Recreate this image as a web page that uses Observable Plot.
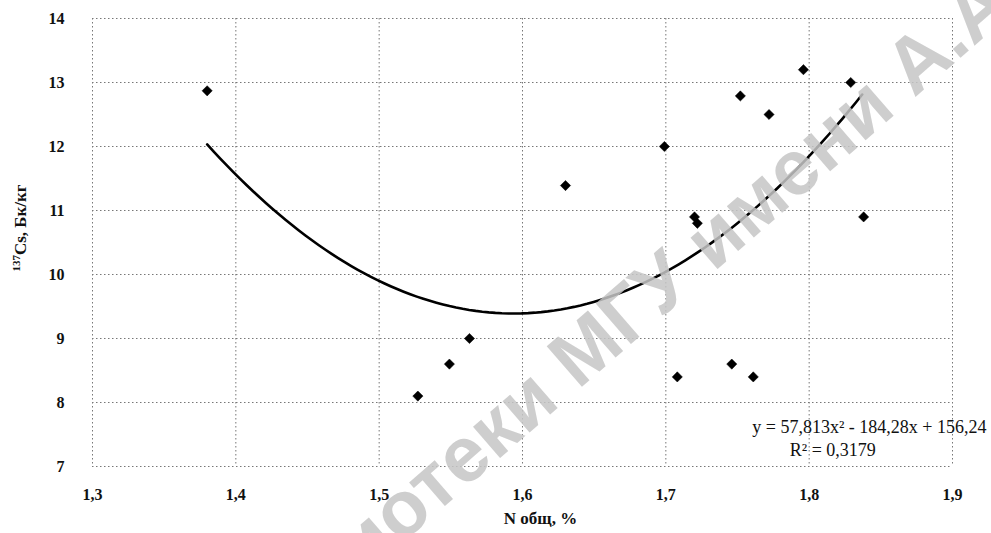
<!DOCTYPE html>
<html>
<head>
<meta charset="utf-8">
<script src="https://cdn.jsdelivr.net/npm/d3@7"></script>
<script src="https://cdn.jsdelivr.net/npm/@observablehq/plot@0.6"></script>
<style>
  html, body { margin: 0; padding: 0; background: #fff; }
  #chart { width: 991px; height: 533px; }
</style>
</head>
<body>
<div id="chart"></div>
<script>
// N общ, % (x) and 137Cs, Бк/кг (y) for each sample
const nTotal = [1.380, 1.527, 1.549, 1.563, 1.630, 1.699, 1.708, 1.720, 1.722, 1.746, 1.752, 1.761, 1.772, 1.796, 1.829, 1.838];
const cs137  = [12.87, 8.10, 8.60, 9.00, 11.39, 12.00, 8.40, 10.90, 10.80, 8.60, 12.79, 8.40, 12.50, 13.20, 13.00, 10.90];

// Tick values
const xTicks = [1.3, 1.4, 1.5, 1.6, 1.7, 1.8, 1.9];
const yTicks = [7, 8, 9, 10, 11, 12, 13, 14];

// Trendline as printed on the chart: y = a x^2 + b x + c
const trendCoef = [57.813, -184.28, 156.24];
const trendRange = [1.38, 1.837];
const equationText = "y = 57,813x² - 184,28x + 156,24";
const r2Text = "R² = 0,3179";

const xTitle = "N общ, %";
const yTitleSup = "137";
const yTitleMain = "Cs, Бк/кг";

const points = nTotal.map((x, i) => ({x, y: cs137[i]}));
const trend = d3.range(0, 101).map(i => {
  const x = trendRange[0] + (trendRange[1] - trendRange[0]) * i / 100;
  return {x, y: trendCoef[0] * x * x + trendCoef[1] * x + trendCoef[2]};
});
const comma = d => d3.format(".1f")(d).replace(".", ",");

const plot = Plot.plot({
  width: 991,
  height: 533,
  marginTop: 18,
  marginBottom: 67,
  marginLeft: 92,
  marginRight: 39,
  style: {fontFamily: "'Liberation Serif', 'DejaVu Serif', serif", fontSize: "16px", fontWeight: "bold", color: "#111", background: "#fff"},
  x: {domain: [1.3, 1.9], ticks: xTicks, tickFormat: comma, tickSize: 0, tickPadding: 22, label: null},
  y: {domain: [7, 14], ticks: yTicks, tickFormat: d3.format("d"), tickSize: 0, tickPadding: 28, label: null},
  marks: [
    Plot.ruleX(xTicks, {stroke: "#777", strokeWidth: 1, strokeDasharray: "1.5,2.5"}),
    Plot.ruleY(yTicks, {stroke: "#777", strokeWidth: 1, strokeDasharray: "1.5,2.5"}),
    Plot.line(trend, {x: "x", y: "y", stroke: "#000", strokeWidth: 2.6}),
    Plot.dot(points, {x: "x", y: "y", symbol: "diamond2", r: 4.6, fill: "#000", stroke: "#000", strokeWidth: 0.5}),
    Plot.text([equationText], {x: 1.9, y: 7.61, dx: 34, textAnchor: "end", fontSize: 18, fontWeight: "normal", fill: "#111"}),
    Plot.text([r2Text], {x: 1.8165, y: 7.26, textAnchor: "middle", fontSize: 18, fontWeight: "normal", fill: "#111"}),
    Plot.text([xTitle], {frameAnchor: "bottom", dx: 18, dy: 57, fontSize: 17, fontWeight: "bold", fill: "#111"})
  ]
});

document.getElementById("chart").appendChild(plot);

const svg = d3.select(plot);

// Y axis title with superscript mass number
const yt = svg.append("text")
  .attr("transform", "translate(26,228) rotate(-90)")
  .attr("text-anchor", "middle")
  .attr("font-family", "'Liberation Serif', serif")
  .attr("font-weight", "bold")
  .attr("font-size", 17)
  .attr("fill", "#111");
yt.append("tspan").attr("font-size", 11).attr("dy", -6).text(yTitleSup);
yt.append("tspan").attr("dy", 6).text(yTitleMain);

// Scanned-document watermark
const wm = svg.append("g")
  .attr("transform", "translate(400,545) rotate(-41)")
  .attr("font-family", "'Liberation Sans', Arial, sans-serif")
  .attr("font-size", 78)
  .attr("fill", "#c6c6c6")
  .attr("fill-opacity", 0.85);
wm.append("text").attr("text-anchor", "end").text("библи");
wm.append("text").attr("text-anchor", "start").text("отеки МГУ имени А.А. Кулешова");
</script>
</body>
</html>
